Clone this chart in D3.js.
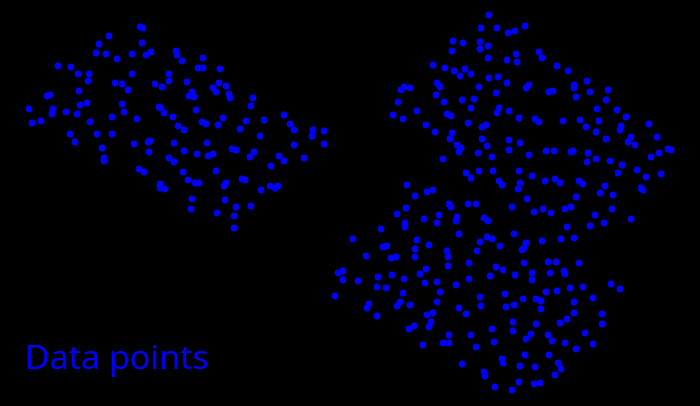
<!DOCTYPE html>
<html><head><meta charset="utf-8">
<script src="https://cdn.jsdelivr.net/npm/d3@7"></script>
<style>html,body{margin:0;padding:0;background:#000;}svg{display:block;}</style>
</head><body>
<svg id="chart" width="700" height="406"></svg>
<script>
const titleText = "Data points";

const leftCluster = [
[140,27],[143,28],[109,36],[99,44],[142,43],[96,53],[106,54],[132,54],[146,55],[151,52],[117,59],[176,51],[177,55],
[58,66],[71,67],[78,74],[89,74],[88,81],[132,74],[169,74],[169,81],[115,83],[122,84],[155,84],[162,87],[128,90],
[79,91],[47,96],[50,95],[87,103],[80,105],[122,104],[29,109],[53,109],[52,114],[66,112],[77,114],[124,112],[159,107],
[161,108],[164,113],[173,117],[112,117],[137,119],[32,123],[41,121],[90,122],[178,126],[70,134],[97,134],[112,134],
[182,61],[203,58],[198,68],[203,68],[220,69],[187,82],[219,83],[213,88],[216,92],[226,86],[192,92],[189,96],[194,97],
[229,94],[230,98],[253,98],[251,106],[196,110],[202,122],[206,124],[223,118],[218,125],[246,121],[264,120],[284,115],
[290,124],[294,130],[240,129],[260,136],[313,130],[312,136],[324,131],[324,144],[294,145],[184,130],[174,143],[207,143],
[184,151],[197,154],[232,149],[236,150],[254,152],[250,157],[208,156],[213,154],[279,156],[304,158],
[75,142],[102,148],[104,158],[104,161],[134,144],[148,142],[150,141],[149,152],[139,169],[144,172],[169,158],[174,162],
[183,172],[188,180],[195,183],[199,183],[216,171],[160,184],[160,188],[165,189],[192,199],[191,209],[226,183],[224,186],
[225,200],[236,207],[234,216],[234,228],[217,213],[242,179],[245,180],[271,166],[284,161],[251,206],[261,190],[270,186],
[275,188],[278,186]
];

const rightCluster = [
[489,15],[481,28],[497,28],[508,33],[515,31],[525,26],[453,41],[463,43],[452,51],[480,42],[480,49],[488,46],[516,54],
[488,58],[507,60],[517,62],[433,65],[445,68],[454,71],[465,69],[460,76],[471,74],[489,78],[498,77],[507,83],[526,88],
[529,85],[437,83],[440,87],[410,88],[401,90],[404,87],[479,87],[436,95],[496,93],[398,102],[444,102],[462,100],[474,99],
[471,108],[499,108],[497,113],[509,111],[417,111],[393,115],[403,119],[447,114],[451,116],[519,118],[535,119],
[539,52],[542,58],[557,66],[568,71],[574,85],[574,88],[587,81],[549,92],[553,91],[590,92],[608,90],[576,97],[606,100],
[597,109],[617,110],[626,117],[539,122],[563,121],[580,120],[599,121],[586,127],[596,132],[621,126],[620,130],[649,124],
[606,139],[631,137],[628,142],[635,145],[657,137],[668,149],[671,150],[546,151],[554,151],[571,152],[573,151],[588,153],[659,153],
[468,123],[426,125],[435,132],[452,133],[450,139],[482,127],[486,125],[482,139],[487,146],[509,140],[520,143],[509,150],
[457,145],[461,148],[459,152],[478,153],[492,157],[529,155],[443,159],[466,173],[471,178],[479,171],[493,171],[519,171],
[532,176],[499,181],[502,185],[520,183],[518,189],[407,185],[415,196],[427,192],[433,190],[449,204],[451,207],[468,204],
[476,204],[527,199],[512,207],[534,212],[397,214],[406,208],[424,219],[439,215],[457,217],[456,221],[484,218],[488,221],
[405,223],[437,223],
[651,157],[596,159],[587,162],[610,161],[622,165],[637,170],[618,173],[646,177],[661,174],[545,181],[555,179],[560,183],
[579,181],[583,184],[605,186],[600,193],[613,195],[576,197],[641,188],[643,190],[543,209],[551,213],[565,209],[571,207],
[612,209],[595,215],[631,219],[567,227],[590,226],[604,223],[542,241],[561,239],[574,238],
[381,229],[405,227],[459,234],[353,239],[417,240],[429,245],[383,247],[387,246],[415,249],[447,251],[448,257],[480,242],
[477,251],[366,256],[391,258],[396,257],[415,257],[469,263],[448,266],[426,269],[420,274],[338,273],[343,271],[343,280],
[358,281],[378,277],[392,275],[404,279],[425,283],[437,282],[469,279],[456,285],[377,287],[386,288],[440,292],[403,293],
[335,296],[480,297],[369,304],[367,308],[377,316],[400,302],[397,306],[410,305],[437,302],[459,308],[481,306],
[514,234],[487,237],[492,239],[500,246],[526,243],[524,248],[522,250],[524,263],[548,262],[556,262],[579,263],[496,267],
[503,270],[515,275],[532,273],[532,280],[550,273],[564,271],[565,274],[490,276],[611,284],[620,289],[583,287],[570,288],
[557,291],[546,292],[505,294],[593,298],[523,299],[536,299],[541,301],[574,302],[514,305],[506,307],[541,309],
[466,314],[427,315],[433,313],[431,322],[429,327],[414,326],[409,329],[449,335],[443,343],[449,343],[471,335],[492,329],
[513,322],[513,331],[423,345],[494,342],[476,347],[502,359],[503,363],[462,364],[484,372],[485,376],[495,387],[512,390],
[574,313],[567,319],[560,323],[602,314],[602,324],[536,324],[531,334],[526,339],[548,335],[552,341],[565,343],[585,333],
[593,344],[576,349],[525,355],[549,355],[520,366],[535,367],[558,363],[561,369],[555,375],[519,382],[534,384],[540,383]
];

const W = 700, H = 406;
const svg = d3.select("#chart");
svg.append("rect").attr("width", W).attr("height", H).attr("fill", "#000");

const x = d3.scaleLinear().domain([0, 700]).range([0, W]);
const y = d3.scaleLinear().domain([0, 406]).range([0, H]);

const all = leftCluster.concat(rightCluster);
svg.append("g").selectAll("circle").data(all).join("circle")
  .attr("cx", d => x(d[0]))
  .attr("cy", d => y(d[1]))
  .attr("r", 3.4)
  .attr("fill", "#0000ff");

svg.append("text")
  .attr("x", 25).attr("y", 369)
  .attr("fill", "#0000ff")
  .attr("font-family", "'Open Sans', sans-serif")
  .attr("font-size", 32)
  .attr("textLength", 184)
  .attr("lengthAdjust", "spacingAndGlyphs")
  .text(titleText);
</script>
</body></html>
